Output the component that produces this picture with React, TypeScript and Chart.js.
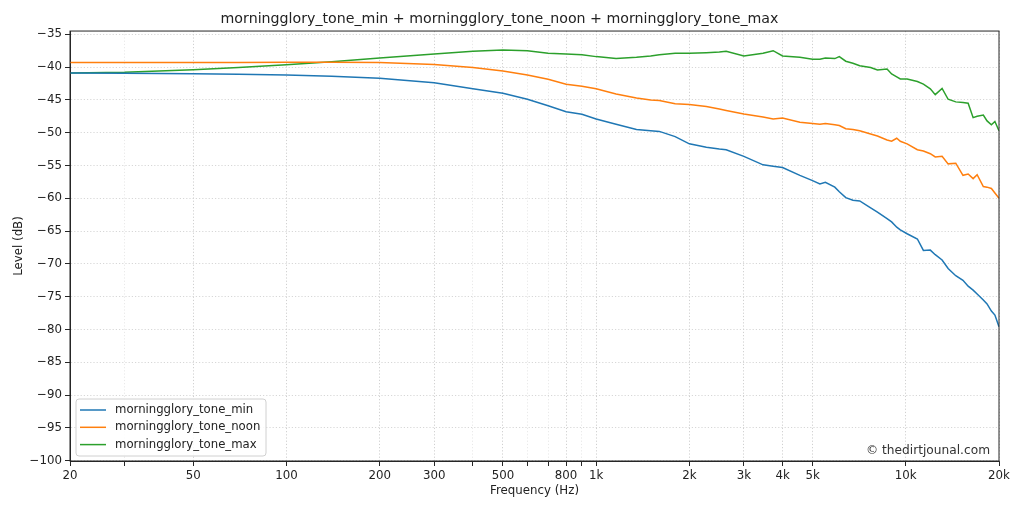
import React, { useEffect, useRef } from "react";
import Chart from "chart.js/auto";

// frequency points (Hz)
const FREQS = [
  20, 30, 50, 70, 100, 140, 200, 300, 400, 500, 600, 700, 800, 900, 1000, 1160,
  1350, 1500, 1600, 1800, 2000, 2270, 2500, 2630, 3000, 3460, 3730, 4000, 4550,
  5000, 5280, 5500, 5900, 6100, 6400, 6750, 7100, 7700, 8100, 8700, 9000, 9350,
  9600, 10100, 10900, 11400, 12000, 12450, 13100, 13700, 14500, 15300, 15900,
  16500, 17000, 17800, 18300, 18900, 19400, 20000,
];

const TONE_MIN = [
  -40.9, -40.95, -41.0, -41.1, -41.2, -41.4, -41.7, -42.4, -43.3, -44.0, -44.9,
  -45.9, -46.8, -47.2, -47.9, -48.7, -49.5, -49.7, -49.8, -50.6, -51.7, -52.2,
  -52.5, -52.6, -53.6, -54.9, -55.1, -55.3, -56.5, -57.3, -57.8, -57.55, -58.3,
  -59.0, -59.9, -60.3, -60.4, -61.45, -62.1, -63.1, -63.6, -64.4, -64.8, -65.4,
  -66.2, -67.95, -67.9, -68.6, -69.4, -70.7, -71.8, -72.5, -73.4, -74.0, -74.6,
  -75.5, -76.1, -77.2, -77.8, -79.6,
];

const TONE_NOON = [
  -39.3, -39.3, -39.3, -39.28, -39.25, -39.25, -39.3, -39.6, -40.05, -40.6,
  -41.2, -41.85, -42.6, -42.9, -43.3, -44.1, -44.7, -45.0, -45.1, -45.6, -45.7,
  -46.0, -46.4, -46.6, -47.15, -47.6, -47.9, -47.75, -48.4, -48.6, -48.7, -48.6,
  -48.8, -48.9, -49.4, -49.5, -49.7, -50.2, -50.5, -51.1, -51.3, -50.85, -51.3,
  -51.7, -52.6, -52.8, -53.2, -53.7, -53.6, -54.75, -54.65, -56.5, -56.3, -57.0,
  -56.4, -58.2, -58.3, -58.5, -59.2, -60.0,
];

const TONE_MAX = [
  -40.9, -40.8, -40.4, -40.05, -39.65, -39.2, -38.6, -38.0, -37.6, -37.4, -37.5,
  -37.9, -38.0, -38.1, -38.4, -38.7, -38.5, -38.3, -38.1, -37.9, -37.9, -37.8,
  -37.7, -37.6, -38.3, -37.9, -37.5, -38.3, -38.5, -38.8, -38.8, -38.6, -38.7,
  -38.4, -39.1, -39.4, -39.8, -40.05, -40.45, -40.3, -41.05, -41.5, -41.8, -41.8,
  -42.2, -42.6, -43.3, -44.2, -43.25, -44.9, -45.3, -45.4, -45.5, -47.7, -47.5,
  -47.3, -48.2, -48.8, -48.3, -49.7,
];

const SERIES_LABELS = ["morningglory_tone_min", "morningglory_tone_noon", "morningglory_tone_max"];
const SERIES_COLORS = ["#1f77b4", "#ff7f0e", "#2ca02c"];

const X_MAJOR = [20, 50, 100, 200, 300, 500, 800, 1000, 2000, 3000, 4000, 5000, 10000, 20000];
const X_MAJOR_LABELS = ["20", "50", "100", "200", "300", "500", "800", "1k", "2k", "3k", "4k", "5k", "10k", "20k"];
const X_MINOR = [30, 400, 600, 700, 900];
const Y_TICKS = [-100, -95, -90, -85, -80, -75, -70, -65, -60, -55, -50, -45, -40, -35];

const FONT = "DejaVu Sans";
const WATERMARK = "© thedirtjounal.com";

// top/right spines, legend box and watermark drawn inside the plot area
const overlay = {
  id: "overlay",
  afterDraw(chart: any) {
    const { ctx, chartArea } = chart;
    const { left, top, right, bottom } = chartArea;
    ctx.save();
    ctx.strokeStyle = "#262626";
    ctx.lineWidth = 1;
    ctx.setLineDash([]);
    ctx.strokeRect(left, top, right - left, bottom - top);

    // legend
    const bx = left + 6;
    const by = bottom - 62;
    const bw = 190;
    const bh = 57;
    ctx.beginPath();
    ctx.roundRect(bx, by, bw, bh, 3);
    ctx.fillStyle = "rgba(255,255,255,0.85)";
    ctx.fill();
    ctx.strokeStyle = "#d0d0d0";
    ctx.stroke();
    ctx.font = `11.7px "${FONT}"`;
    ctx.textBaseline = "middle";
    ctx.textAlign = "left";
    chart.data.datasets.forEach((ds: any, i: number) => {
      const y = by + 11 + i * 17.3;
      ctx.strokeStyle = ds.borderColor;
      ctx.lineWidth = 1.5;
      ctx.beginPath();
      ctx.moveTo(bx + 4, y);
      ctx.lineTo(bx + 30, y);
      ctx.stroke();
      ctx.fillStyle = "#222";
      ctx.fillText(ds.label, bx + 39, y);
    });

    // watermark
    ctx.font = `12.2px "${FONT}"`;
    ctx.textAlign = "right";
    ctx.fillStyle = "#333";
    ctx.fillText(WATERMARK, right - 9, bottom - 10);
    ctx.restore();
  },
};

const FrequencyChart: React.FC = () => {
  const chartRef = useRef<HTMLCanvasElement | null>(null);

  useEffect(() => {
    document.body.style.margin = "0";
    const ctx = chartRef.current?.getContext("2d");
    if (!ctx) {
      return;
    }

    const seriesValues = [TONE_MIN, TONE_NOON, TONE_MAX];
    const isMajor = (v: number) => X_MAJOR.includes(Math.round(v));

    const myChart = new Chart(ctx, {
      type: "line",
      data: {
        datasets: seriesValues.map((vals, i) => ({
          label: SERIES_LABELS[i],
          data: FREQS.map((f, j) => ({ x: f, y: vals[j] })),
          borderColor: SERIES_COLORS[i],
          backgroundColor: SERIES_COLORS[i],
          borderWidth: 1.5,
          pointRadius: 0,
          tension: 0,
          fill: false,
        })),
      },
      options: {
        animation: false,
        responsive: true,
        maintainAspectRatio: false,
        layout: { padding: { left: 0, right: 25, top: 0, bottom: 0 } },
        plugins: {
          legend: { display: false },
          tooltip: { enabled: false },
          title: {
            display: true,
            text: SERIES_LABELS.join(" + "),
            color: "#222",
            font: { family: FONT, size: 14.2, weight: "normal" },
            padding: { top: 11, bottom: 3 },
          },
        },
        scales: {
          x: {
            type: "logarithmic",
            min: 20,
            max: 20000,
            afterBuildTicks: (scale: any) => {
              scale.ticks = [...X_MAJOR, ...X_MINOR]
                .sort((a, b) => a - b)
                .map((v) => ({ value: v }));
            },
            afterFit: (scale: any) => {
              scale.height = 51;
            },
            ticks: {
              autoSkip: false,
              maxRotation: 0,
              padding: 3,
              color: "#222",
              font: { family: FONT, size: 11.8 },
              callback: (value: any) => {
                const idx = X_MAJOR.indexOf(Math.round(Number(value)));
                return idx >= 0 ? X_MAJOR_LABELS[idx] : "";
              },
            },
            grid: {
              color: (c: any) => (isMajor(c.tick?.value ?? 0) ? "#c4c4c4" : "#e3e3e3"),
              lineWidth: 0.8,
              tickLength: 5,
              tickColor: "#262626",
              tickWidth: 1,
              tickBorderDash: [],
            } as any,
            border: { display: true, color: "#262626", width: 1, dash: [1.2, 2] },
            title: {
              display: true,
              text: "Frequency (Hz)",
              color: "#222",
              font: { family: FONT, size: 11.8 },
              padding: { top: 0, bottom: 14 },
            },
          },
          y: {
            type: "linear",
            min: -100.05,
            max: -34.5,
            afterBuildTicks: (scale: any) => {
              scale.ticks = Y_TICKS.map((v) => ({ value: v }));
            },
            afterFit: (scale: any) => {
              scale.width = 70;
            },
            ticks: {
              padding: 3,
              color: "#222",
              font: { family: FONT, size: 11.8 },
              callback: (value: any) => {
                const v = Number(value);
                return v < 0 ? "\u2212" + Math.abs(v) : String(v);
              },
            },
            grid: {
              color: "#cdcdcd",
              lineWidth: 0.8,
              tickLength: 5,
              tickColor: "#262626",
              tickWidth: 1,
              tickBorderDash: [],
            } as any,
            border: { display: true, color: "#262626", width: 1, dash: [1.2, 2] },
            title: {
              display: true,
              text: "Level (dB)",
              color: "#222",
              font: { family: FONT, size: 11.8 },
              padding: { top: 12, bottom: 0 },
            },
          },
        },
      },
      plugins: [overlay],
    });

    return () => {
      myChart.destroy();
    };
  }, []);

  return (
    <div style={{ width: 1024, height: 512, position: "relative", background: "#fff" }}>
      <canvas ref={chartRef} />
    </div>
  );
};

export default function App() {
  return <FrequencyChart />;
}
